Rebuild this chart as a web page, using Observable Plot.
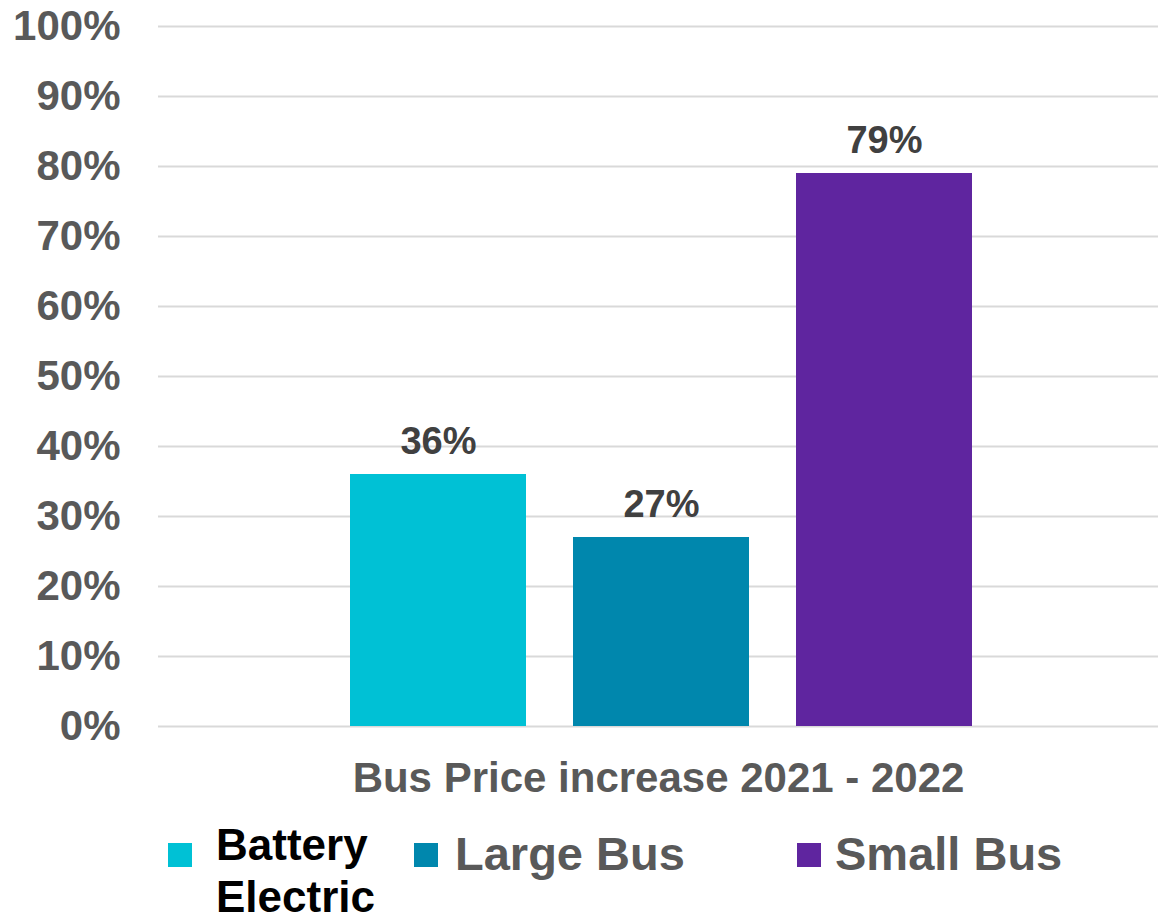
<!DOCTYPE html>
<html>
<head>
<meta charset="utf-8">
<script src="https://cdn.jsdelivr.net/npm/d3@7"></script>
<script src="https://cdn.jsdelivr.net/npm/@observablehq/plot@0.6"></script>
<style>
  html, body { margin: 0; padding: 0; background: #fff; }
  body { font-family: "Liberation Sans", Arial, sans-serif; width: 1158px; height: 916px; overflow: hidden; }
  #chart svg { display: block; font-family: "Liberation Sans", Arial, sans-serif; }
  #legend { position: relative; width: 1158px; height: 106px; font-weight: bold; }
  .sw { position: absolute; width: 24px; height: 24px; }
  .lb { position: absolute; white-space: nowrap; }
</style>
</head>
<body>
<div id="chart"></div>
<div id="legend"></div>
<script>
const group = "Bus Price increase 2021 - 2022";
const series = ["Battery Electric", "Large Bus", "Small Bus"];
const values = [36, 27, 79];
const colors = ["#00c1d5", "#0087ad", "#5f259f"];
const yTicks = [0, 10, 20, 30, 40, 50, 60, 70, 80, 90, 100];

const data = series.map((s, i) => ({group, series: s, value: values[i]}));

const plot = Plot.plot({
  width: 1158,
  height: 810,
  marginLeft: 158,
  marginRight: 0,
  marginTop: 26,
  marginBottom: 84,
  style: {background: "#fff", fontFamily: "Liberation Sans, Arial, sans-serif"},
  fx: {padding: 0, domain: [group]},
  x: {domain: series, paddingInner: 0.21, paddingOuter: 0.847, align: 0.508, axis: null},
  y: {domain: [0, 100], axis: null},
  color: {domain: series, range: colors},
  marks: [
    Plot.ruleY(yTicks, {stroke: "#d9d9d9", strokeWidth: 2}),
    Plot.barY(data, {fx: "group", x: "series", y: "value", fill: "series"}),
    Plot.text(data, {
      fx: "group", x: "series", y: "value",
      text: d => d.value + "%",
      lineAnchor: "bottom", dy: -21,
      fontSize: 38, fontWeight: "bold", fill: "#404040"
    }),
    Plot.axisY({
      ticks: yTicks, tickFormat: d => d + "%", tickSize: 0, tickPadding: 38,
      fontSize: 42, fontWeight: "bold", fill: "#595959", label: null
    }),
    Plot.axisFx({
      anchor: "bottom", tickSize: 0, tickPadding: 36,
      fontSize: 42, fontWeight: "bold", fill: "#595959", label: null
    })
  ]
});
document.getElementById("chart").appendChild(plot);

// Legend
const legend = document.getElementById("legend");
const items = [
  {sw: [168, 33], txt: [216, 9], size: 44, lh: 52, color: "#000000", html: "Battery<br>Electric"},
  {sw: [414, 33], txt: [455, 20], size: 47, lh: 47, color: "#595959", html: series[1]},
  {sw: [797, 33], txt: [835, 20], size: 47, lh: 47, color: "#595959", html: series[2]}
];
items.forEach((it, i) => {
  const sw = document.createElement("div");
  sw.className = "sw";
  sw.style.left = it.sw[0] + "px";
  sw.style.top = it.sw[1] + "px";
  sw.style.background = colors[i];
  legend.appendChild(sw);
  const lb = document.createElement("div");
  lb.className = "lb";
  lb.style.left = it.txt[0] + "px";
  lb.style.top = it.txt[1] + "px";
  lb.style.fontSize = it.size + "px";
  lb.style.lineHeight = it.lh + "px";
  lb.style.color = it.color;
  lb.innerHTML = it.html;
  legend.appendChild(lb);
});
</script>
</body>
</html>
